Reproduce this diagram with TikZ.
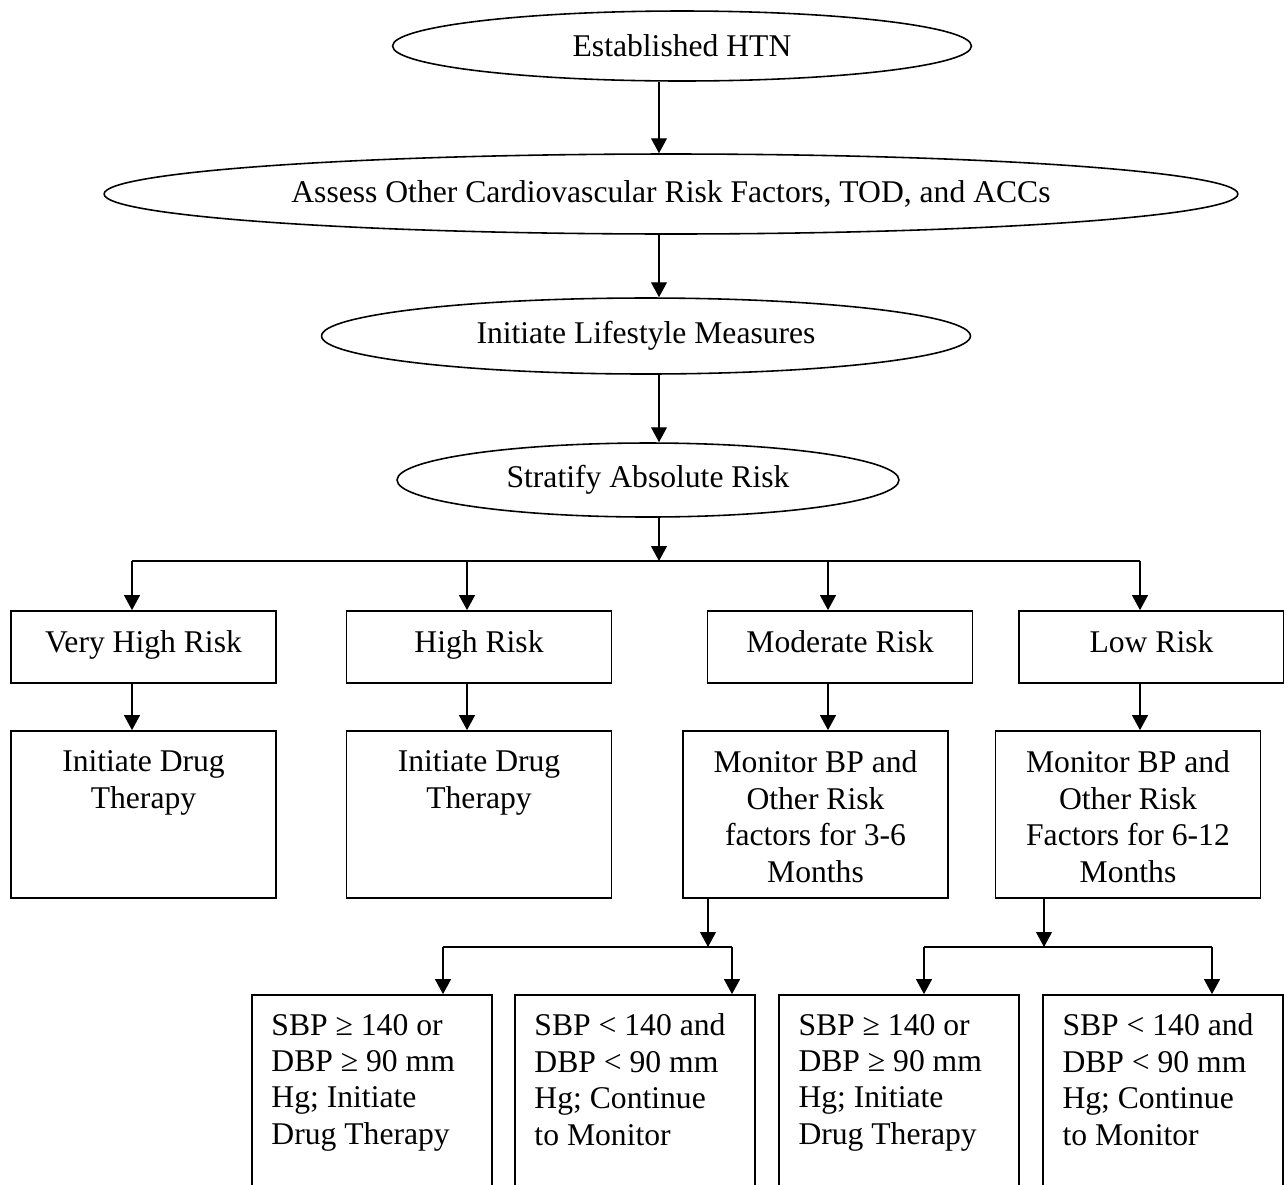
\documentclass[tikz,border=0pt]{standalone}
\usepackage{fontspec}
\setmainfont{Liberation Serif}
\usetikzlibrary{shapes.geometric, arrows.meta, positioning, calc}
\newcommand{\flowfont}{\fontsize{18}{20.7}\selectfont}

\begin{document}
\begin{tikzpicture}[x=0.02cm, y=-0.02cm,
    ell/.style={ellipse, draw, line width=0.9pt, inner sep=0pt, font=\flowfont},
    box/.style={rectangle, draw, line width=1pt, inner sep=0pt, minimum width=5.3cm, font=\flowfont, align=center},
    riskbox/.style={box, minimum height=1.44cm, text height=12pt, text depth=5.8pt},
    txt/.style={inner sep=0pt, font=\flowfont},
    arr/.style={line width=0.8pt, -{Triangle[length=8.5pt, width=9pt]}},
    bus/.style={line width=0.8pt}
]
\useasboundingbox (0,0) rectangle (1284,1184);
\clip (0,0) rectangle (1284,1184);

% Ellipses (top)
\node[ell, minimum width=11.58cm, minimum height=1.4cm] (htn) at (682,46) {Established HTN};
\node[ell, minimum width=22.68cm, minimum height=1.6cm] (assess) at (671,194) {Assess Other Cardiovascular Risk Factors, TOD, and ACCs};
\node[ell, minimum width=12.98cm, minimum height=1.52cm] (life) at (646,336) {Initiate Lifestyle Measures};
\node[ell, minimum width=10.04cm, minimum height=1.48cm] (strat) at (648,480) {Stratify Absolute Risk};

\coordinate (spine) at (659,0);
\draw[arr] (htn.south -| spine) -- (assess.north -| spine);
\draw[arr] (assess.south -| spine) -- (life.north -| spine);
\draw[arr] (life.south -| spine) -- (strat.north -| spine);

% Risk levels
\node[riskbox] (vh) at (143.5,647) {Very High Risk};
\node[riskbox] (hi) at (479,647) {High Risk};
\node[riskbox] (mod) at (840,647) {Moderate Risk};
\node[riskbox] (low) at (1151.5,647) {Low Risk};

\coordinate (bus) at (659,561);
\coordinate (c1) at (132,561);
\coordinate (c2) at (467,561);
\coordinate (c3) at (828,561);
\coordinate (c4) at (1140,561);
\draw[arr] (strat.south -| spine) -- (bus);
\draw[bus] (c1) -- (c4);

% Actions
\node[box, minimum height=3.34cm] (vh2) at (143.5,814.5) {};
\node[box, minimum height=3.34cm] (hi2) at (479,814.5) {};
\node[box, minimum height=3.34cm] (mod2) at (815.5,814.5) {};
\node[box, minimum height=3.34cm] (low2) at (1128,814.5) {};

\node[txt, anchor=north, align=center] (vh2t) at ([yshift=-0.41cm]vh2.north) {Initiate Drug\\Therapy};
\node[txt, anchor=north, align=center] (hi2t) at ([yshift=-0.41cm]hi2.north) {Initiate Drug\\Therapy};
\node[txt, anchor=north, align=center] (mod2t) at ([yshift=-0.41cm]mod2.north) {Monitor BP and\\Other Risk\\factors for 3-6\\Months};
\node[txt, anchor=north, align=center] (low2t) at ([yshift=-0.41cm]low2.north) {Monitor BP and\\Other Risk\\Factors for 6-12\\Months};

\foreach \c/\n in {c1/vh, c2/hi, c3/mod, c4/low} {
    \draw[arr] (\c) -- (\c |- \n.north);
    \draw[arr] (\c |- \n.south) -- (\c |- \n2.north);
}

% Follow-up
\node[box, minimum width=4.8cm, minimum height=4.8cm] (b1) at (372,1115) {};
\node[box, minimum width=4.8cm, minimum height=4.8cm] (b2) at (635,1115) {};
\node[box, minimum width=4.8cm, minimum height=4.8cm] (b3) at (899,1115) {};
\node[box, minimum width=4.8cm, minimum height=4.8cm] (b4) at (1163,1115) {};

\node[txt, anchor=north west, align=left] (b1t) at ([xshift=0.4cm, yshift=-0.39cm]b1.north west) {SBP ≥ 140 or\\DBP ≥ 90 mm\\Hg; Initiate\\Drug Therapy};
\node[txt, anchor=north west, align=left] (b2t) at ([xshift=0.4cm, yshift=-0.39cm]b2.north west) {SBP < 140 and\\DBP < 90 mm\\Hg; Continue\\to Monitor};
\node[txt, anchor=north west, align=left] (b3t) at ([xshift=0.4cm, yshift=-0.39cm]b3.north west) {SBP ≥ 140 or\\DBP ≥ 90 mm\\Hg; Initiate\\Drug Therapy};
\node[txt, anchor=north west, align=left] (b4t) at ([xshift=0.4cm, yshift=-0.39cm]b4.north west) {SBP < 140 and\\DBP < 90 mm\\Hg; Continue\\to Monitor};

\coordinate (m) at (708,947);
\coordinate (m1) at (443,947);
\coordinate (m2) at (732,947);
\coordinate (l) at (1044,947);
\coordinate (l1) at (924,947);
\coordinate (l2) at (1212,947);

\draw[arr] (mod2.south -| m) -- (m);
\draw[bus] (m1) -- (m2);
\draw[arr] (m1) -- (m1 |- b1.north);
\draw[arr] (m2) -- (m2 |- b2.north);

\draw[arr] (low2.south -| l) -- (l);
\draw[bus] (l1) -- (l2);
\draw[arr] (l1) -- (l1 |- b3.north);
\draw[arr] (l2) -- (l2 |- b4.north);

\end{tikzpicture}
\end{document}
